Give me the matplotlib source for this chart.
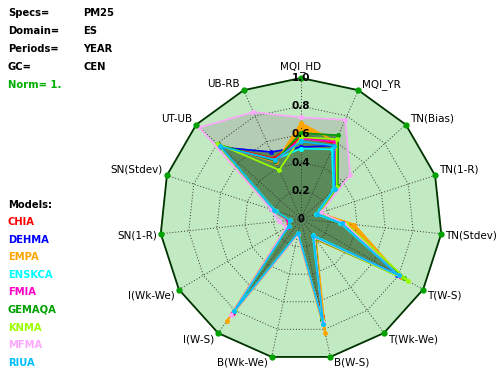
import matplotlib.pyplot as plt
import numpy as np

axes_names = ['MQI_HD', 'MQI_YR', 'TN(Bias)', 'TN(1-R)', 'TN(Stdev)', 'T(W-S)',
              'T(Wk-We)', 'B(W-S)', 'B(Wk-We)', 'I(W-S)', 'I(Wk-We)', 'SN(1-R)',
              'SN(Stdev)', 'UT-UB', 'UB-RB']
models = ['CHIA', 'DEHMA', 'EMPA', 'ENSKCA', 'FMIA', 'GEMAQA', 'KNMA', 'MFMA', 'RIUA']
colors = ['#ff0000', '#0000ff', '#ffa500', '#00ffff', '#ff00c8', '#00a000',
          '#9cff00', '#ffa8ff', '#00bfff']

chia   = [0.58, 0.59, 0.34, 0.13, 0.30, 0.80, 0.16, 0.70, 0.10, 0.82, 0.10, 0.08, 0.20, 0.78, 0.47]
dehma  = [0.51, 0.57, 0.33, 0.12, 0.29, 0.79, 0.15, 0.74, 0.10, 0.80, 0.11, 0.09, 0.22, 0.76, 0.52]
empa   = [0.68, 0.60, 0.35, 0.14, 0.38, 0.82, 0.18, 0.83, 0.11, 0.89, 0.12, 0.09, 0.21, 0.79, 0.44]
enskca = [0.50, 0.54, 0.31, 0.11, 0.28, 0.80, 0.14, 0.76, 0.10, 0.81, 0.10, 0.08, 0.19, 0.77, 0.46]
fmia   = [0.57, 0.60, 0.34, 0.13, 0.30, 0.81, 0.16, 0.75, 0.10, 0.83, 0.11, 0.09, 0.20, 0.78, 0.45]
gemaqa = [0.61, 0.65, 0.35, 0.13, 0.31, 0.84, 0.17, 0.73, 0.10, 0.81, 0.10, 0.08, 0.20, 0.79, 0.45]
knma   = [0.58, 0.62, 0.34, 0.13, 0.32, 0.88, 0.16, 0.74, 0.10, 0.80, 0.10, 0.08, 0.20, 0.80, 0.38]
mfma   = [0.72, 0.77, 0.47, 0.15, 0.31, 0.80, 0.16, 0.75, 0.11, 0.84, 0.12, 0.16, 0.22, 0.97, 0.83]
riua   = [0.55, 0.57, 0.32, 0.12, 0.29, 0.80, 0.15, 0.76, 0.10, 0.81, 0.10, 0.08, 0.20, 0.77, 0.46]
series = [chia, dehma, empa, enskca, fmia, gemaqa, knma, mfma, riua]

rings = [0.2, 0.4, 0.6, 0.8, 1.0]
ring_labels = ['0.2', '0.4', '0.6', '0.8', '1.0']

# radar geometry, pixel coordinates
cx, cy, R = 301, 219, 141
n = len(axes_names)
ang = np.arange(n) * 2 * np.pi / n


def xy(vals):
    v = np.asarray(vals, dtype=float)
    x = cx + R * v * np.sin(ang)
    y = cy - R * v * np.cos(ang)
    return np.append(x, x[0]), np.append(y, y[0])


fig = plt.figure(figsize=(4.98, 3.78), dpi=100)
ax = fig.add_axes([0, 0, 1, 1])
ax.set_xlim(0, 498)
ax.set_ylim(378, 0)
ax.axis('off')

# background polygon
ox, oy = xy(np.ones(n))
ax.fill(ox, oy, color='#c2eac2', zorder=1)

# fills
px, py = xy(mfma)
ax.fill(px, py, color='#b3ccb3', zorder=2)
ex, ey = xy(empa)
ax.fill(ex, ey, color='#ffa500', zorder=3)
for s, m in zip(series, models):
    if m in ('EMPA', 'MFMA'):
        continue
    sx, sy = xy(s)
    ax.fill(sx, sy, color='#5a8a5a', zorder=4)

# grid
for r in rings[:-1]:
    gx, gy = xy(np.full(n, r))
    ax.plot(gx, gy, color='#333333', lw=0.7, ls=(0, (1, 2)), zorder=5)
for k in range(n):
    ax.plot([cx, ox[k]], [cy, oy[k]], color='#333333', lw=0.7, ls=(0, (1, 2)), zorder=5)

# model lines
for s, c in zip(series, colors):
    sx, sy = xy(s)
    ax.plot(sx, sy, color=c, lw=1.2, marker='o', ms=2.5, zorder=6)

# outer polygon
ax.plot(ox, oy, color='#003300', lw=1.3, zorder=7)
ax.plot(ox[:-1], oy[:-1], 'o', color='#00a000', ms=3.5, zorder=8)

# radial labels
for r, lab in zip(rings, ring_labels):
    ax.text(cx, cy - R * r, lab, ha='center', va='center', fontsize=7.5,
            fontweight='bold', zorder=9)
ax.text(cx, cy, '0', ha='center', va='center', fontsize=7, fontweight='bold', zorder=9)

# axis labels
for k, name in enumerate(axes_names):
    s, c = np.sin(ang[k]), np.cos(ang[k])
    if abs(s) < 0.05:
        ha, va = 'center', 'bottom'
        tx, ty = cx, cy - R - 6
    else:
        ha = 'left' if s > 0 else 'right'
        va = 'center'
        tx = cx + R * s + (4 if s > 0 else -4)
        ty = cy - R * c + (-6 if c > 0.3 else (6 if c < -0.3 else 2))
    ax.text(tx, ty, name, ha=ha, va=va, fontsize=7.5, zorder=9)

# header info
info = [('Specs=', 'PM25'), ('Domain=', 'ES'), ('Periods=', 'YEAR'), ('GC=', 'CEN')]
for i, (k, v) in enumerate(info):
    ax.text(8, 13 + i * 18, k, ha='left', va='center', fontsize=7.2, fontweight='bold')
    ax.text(83, 13 + i * 18, v, ha='left', va='center', fontsize=7.2, fontweight='bold')
ax.text(8, 85, 'Norm= 1.', ha='left', va='center', fontsize=7.2, fontweight='bold',
        color='#00b000')

ax.text(8, 205, 'Models:', ha='left', va='center', fontsize=7.2, fontweight='bold')
for i, (m, c) in enumerate(zip(models, colors)):
    ax.text(8, 222 + i * 17.6, m, ha='left', va='center', fontsize=7.2,
            fontweight='bold', color=c)

plt.savefig('out.png', dpi=100)
